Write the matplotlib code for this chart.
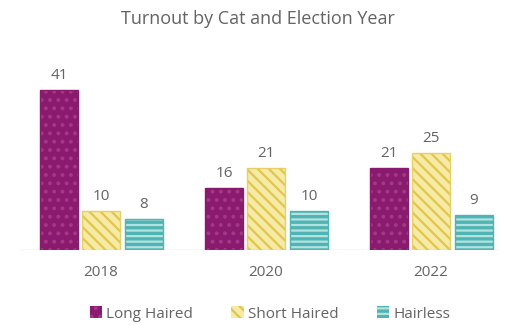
import matplotlib
matplotlib.use("Agg")
import matplotlib.pyplot as plt
import numpy as np

plt.rcParams['font.family'] = ['Open Sans', 'DejaVu Sans']
plt.rcParams['hatch.linewidth'] = 1.6

years = ["2018", "2020", "2022"]
series = ["Long Haired", "Short Haired", "Hairless"]
long_haired = [41, 16, 21]
short_haired = [10, 21, 25]
hairless = [8, 10, 9]

# fill, hatch line colour, outline, hatch pattern
styles = [
    ("#8a1a6e", "#a03a84", "#8a1a6e", ".."),
    ("#f6eba6", "#e2c64a", "#e8d060", "\\\\\\"),
    ("#4fb5b3", "#b4e2e0", "#4fb5b3", "---"),
]

text_grey = "#636363"

fig = plt.figure(figsize=(5.05, 3.25), dpi=100)
ax = fig.add_axes([20 / 505, 75 / 325, 480 / 505, 175.5 / 325])

x = np.arange(len(years))
width = 0.23
offsets = [-0.255, 0.0, 0.26]

handles = []
for vals, (fc, hc, ec, hatch), off, name in zip(
        [long_haired, short_haired, hairless], styles, offsets, series):
    bars = ax.bar(x + off, vals, width, color=fc, edgecolor=hc,
                  hatch=hatch, linewidth=0, label=name, zorder=2)
    ax.bar(x + off, vals, width, facecolor="none", edgecolor=ec,
           linewidth=1.0, zorder=3)
    handles.append(bars)
    for xi, v in zip(x + off, vals):
        ax.annotate(str(v), (xi, v), xytext=(0, 5), textcoords="offset points",
                    ha="center", va="bottom", fontsize=11, color=text_grey)

ax.axhline(0, color="#d9d9d9", linewidth=1, zorder=1)
ax.set_xlim(-0.491, 2.418)
ax.set_ylim(0, 45)
ax.set_xticks(x)
ax.set_xticklabels(years, fontsize=11, color=text_grey)
ax.tick_params(axis="x", length=0, pad=11)
ax.set_yticks([])
for s in ax.spines.values():
    s.set_visible(False)

fig.text(0.51, 1 - 19 / 325, "Turnout by Cat and Election Year", ha="center",
         va="center", fontsize=13, color=text_grey)

fig.legend(handles=handles, labels=series, loc="center",
           bbox_to_anchor=(0.535, 1 - 314 / 325), ncol=3, frameon=False,
           fontsize=11, labelcolor=text_grey, handlelength=0.8,
           handleheight=0.8, handletextpad=0.3, columnspacing=2.5)

fig.savefig("out.png", dpi=100)
